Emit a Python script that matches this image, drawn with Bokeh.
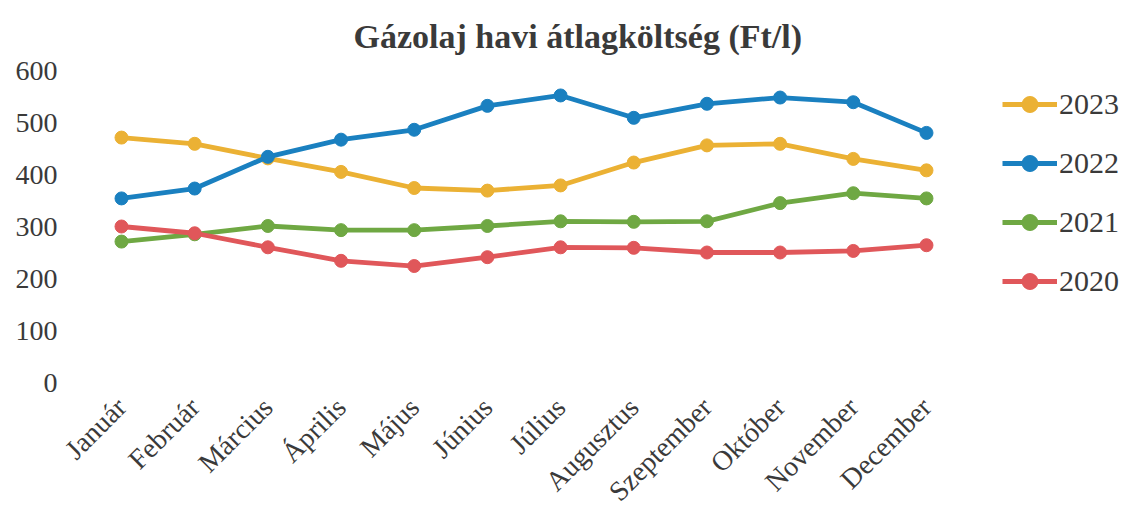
from bokeh.plotting import figure
from bokeh.models import Range1d, Legend, LegendItem, ColumnDataSource, FixedTicker
from bokeh.embed import file_html
from bokeh.resources import INLINE
import math

months = ["Január", "Február", "Március", "Április", "Május", "Június",
          "Július", "Augusztus", "Szeptember", "Október", "November", "December"]
y2023 = [471, 459, 431, 405, 374, 369, 379, 423, 456, 459, 430, 408]
y2022 = [354, 373, 434, 467, 486, 532, 552, 509, 536, 548, 539, 480]
y2021 = [271, 285, 301, 293, 293, 301, 310, 309, 310, 345, 364, 354]
y2020 = [300, 287, 260, 234, 224, 241, 260, 259, 250, 250, 253, 264]
years = ["2023", "2022", "2021", "2020"]
yticks = [0, 100, 200, 300, 400, 500, 600]

series = {"2023": (y2023, "#EBB134"), "2022": (y2022, "#1A80C0"),
          "2021": (y2021, "#6FA843"), "2020": (y2020, "#E0575A")}

FONT = "Liberation Serif"
TXT = "#3a3a3a"

xpos = list(range(len(months)))

p = figure(width=1121, height=520, x_range=Range1d(-0.492, 13.665),
           y_range=Range1d(0, 600), output_backend="svg", toolbar_location=None,
           min_border_left=85, min_border_right=0, min_border_top=70, min_border_bottom=137)
p.outline_line_color = None
p.background_fill_color = "white"

p.title.text = "Gázolaj havi átlagköltség (Ft/l)"
p.title.text_font = FONT
p.title.text_font_size = "34px"
p.title.text_font_style = "bold"
p.title.text_color = TXT
p.title.align = "left"
p.title.offset = 268
p.title.standoff = 31

p.xaxis.ticker = FixedTicker(ticks=xpos)
p.xaxis.major_label_overrides = {i: m for i, m in zip(xpos, months)}
p.xaxis.axis_line_color = None
p.xaxis.major_tick_line_color = None
p.xaxis.minor_tick_line_color = None
p.xaxis.major_label_orientation = math.pi / 4
p.xaxis.major_label_text_font = FONT
p.xaxis.major_label_text_font_size = "28px"
p.xaxis.major_label_text_line_height = 0.8
p.xaxis.major_label_text_color = TXT
p.xaxis.major_label_standoff = 14

p.yaxis.axis_line_color = None
p.yaxis.major_tick_line_color = None
p.yaxis.minor_tick_line_color = None
p.yaxis.ticker = FixedTicker(ticks=yticks)
p.yaxis.major_label_text_font = FONT
p.yaxis.major_label_text_font_size = "28px"
p.yaxis.major_label_text_color = TXT
p.yaxis.major_label_standoff = 22

p.xgrid.grid_line_color = None
p.ygrid.grid_line_color = None

renderers = {}
for yr in ["2021", "2020", "2023", "2022"]:
    vals, col = series[yr]
    src = ColumnDataSource(dict(x=xpos, y=vals))
    l = p.line("x", "y", source=src, line_color=col, line_width=4.8)
    c = p.scatter("x", "y", source=src, marker="circle", size=13, fill_color=col, line_color=col)
    renderers[yr] = [l, c]

items = [LegendItem(label=yr, renderers=renderers[yr]) for yr in years]
legend = Legend(items=items, location=(917, 81), glyph_width=55, glyph_height=40,
                label_height=40, spacing=19, padding=0, margin=0, label_standoff=2,
                label_text_font=FONT, label_text_font_size="30px", label_text_color=TXT,
                border_line_color=None, background_fill_alpha=0)
p.add_layout(legend, "center")

open("out.html", "w").write(file_html(p, INLINE))
